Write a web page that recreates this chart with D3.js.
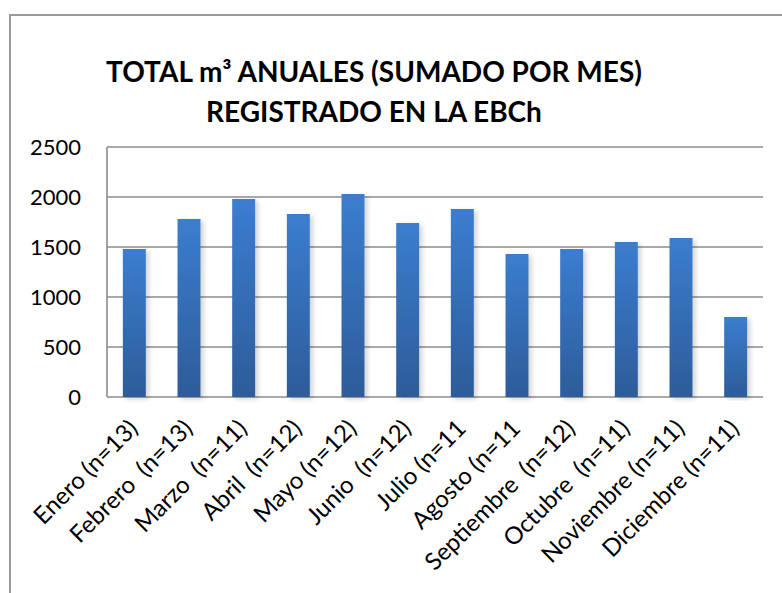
<!DOCTYPE html>
<html>
<head>
<meta charset="utf-8">
<script src="https://cdn.jsdelivr.net/npm/d3@7"></script>
<style>
  body { margin: 0; background: #fff; }
  svg { display: block; font-family: Lato, "Open Sans", sans-serif; }
  text { white-space: pre; }
</style>
</head>
<body>
<div id="chart"></div>
<script>
const months = [
  "Enero (n=13)", "Febrero  (n=13)", "Marzo  (n=11)", "Abril  (n=12)",
  "Mayo (n=12)", "Junio  (n=12)", "Julio (n=11", "Agosto (n=11",
  "Septiembre  (n=12)", "Octubre  (n=11)", "Noviembre (n=11)", "Diciembre (n=11)"
];
const volumes = [1480, 1780, 1980, 1830, 2030, 1740, 1880, 1430, 1480, 1550, 1590, 800];
const yTicks = [0, 500, 1000, 1500, 2000, 2500];
const titleLines = ["TOTAL m³ ANUALES (SUMADO POR MES)", "REGISTRADO EN LA EBCh"];

const width = 782;
const height = 593;
const margin = { top: 147, right: 19, bottom: 196, left: 107 };

const svg = d3.select("#chart")
  .append("svg")
  .attr("width", width)
  .attr("height", height);

const defs = svg.append("defs");
const grad = defs.append("linearGradient")
  .attr("id", "barGrad")
  .attr("x1", 0).attr("y1", 0).attr("x2", 0).attr("y2", 1);
grad.append("stop").attr("offset", "0%").attr("stop-color", "#3b7dd0");
grad.append("stop").attr("offset", "100%").attr("stop-color", "#2d5c99");

const shadow = defs.append("filter").attr("id", "shadow")
  .attr("x", "-30%").attr("y", "-5%").attr("width", "160%").attr("height", "110%");
shadow.append("feGaussianBlur").attr("in", "SourceAlpha").attr("stdDeviation", 2.5);
shadow.append("feOffset").attr("dx", 3).attr("dy", 2).attr("result", "blur");
shadow.append("feComponentTransfer").append("feFuncA").attr("type", "linear").attr("slope", 0.18);
const merge = shadow.append("feMerge");
merge.append("feMergeNode");
merge.append("feMergeNode").attr("in", "SourceGraphic");

// outer frame
svg.append("path")
  .attr("d", `M10,${height} V15 H${width}`)
  .attr("fill", "none")
  .attr("stroke", "#9a9a9a")
  .attr("stroke-width", 2);

const x = d3.scaleBand()
  .domain(months)
  .range([margin.left, width - margin.right])
  .paddingInner(0.58)
  .paddingOuter(0.29);

const y = d3.scaleLinear()
  .domain([0, 2500])
  .range([height - margin.bottom, margin.top]);

// gridlines
svg.append("g")
  .selectAll("line")
  .data(yTicks)
  .join("line")
  .attr("x1", margin.left)
  .attr("x2", width - margin.right)
  .attr("y1", (d) => y(d))
  .attr("y2", (d) => y(d))
  .attr("stroke", "#8c8c8c")
  .attr("stroke-width", 1.6);

svg.append("line")
  .attr("x1", margin.left).attr("x2", margin.left)
  .attr("y1", y(2500)).attr("y2", y(0))
  .attr("stroke", "#8c8c8c")
  .attr("stroke-width", 1.6);

// bars
svg.append("g")
  .selectAll("rect")
  .data(volumes)
  .join("rect")
  .attr("x", (d, i) => x(months[i]))
  .attr("y", (d) => y(d))
  .attr("width", x.bandwidth())
  .attr("height", (d) => y(0) - y(d))
  .attr("fill", "url(#barGrad)")
  .attr("filter", "url(#shadow)");

// y axis labels
const yAxis = svg.append("g")
  .attr("transform", `translate(${margin.left},0)`)
  .call(d3.axisLeft(y).tickValues(yTicks).tickSize(0).tickPadding(26).tickFormat(d3.format("d")));
yAxis.select(".domain").remove();
yAxis.selectAll("text")
  .attr("font-family", "Lato, 'Open Sans', sans-serif")
  .attr("font-size", 22)
  .attr("fill", "#000");

// x axis labels
svg.append("g")
  .selectAll("text")
  .data(months)
  .join("text")
  .attr("transform", (d) => `translate(${x(d) + x.bandwidth() / 2 - 1},${y(0) + 27}) rotate(-45)`)
  .attr("text-anchor", "end")
  .attr("font-size", 24)
  .attr("fill", "#000")
  .attr("dy", "0.35em")
  .text((d) => d);

// title
svg.append("g")
  .selectAll("text")
  .data(titleLines)
  .join("text")
  .attr("x", 374)
  .attr("y", (d, i) => 82 + i * 40)
  .attr("text-anchor", "middle")
  .attr("font-size", 28)
  .attr("font-weight", "bold")
  .attr("fill", "#000")
  .text((d) => d);
</script>
</body>
</html>
